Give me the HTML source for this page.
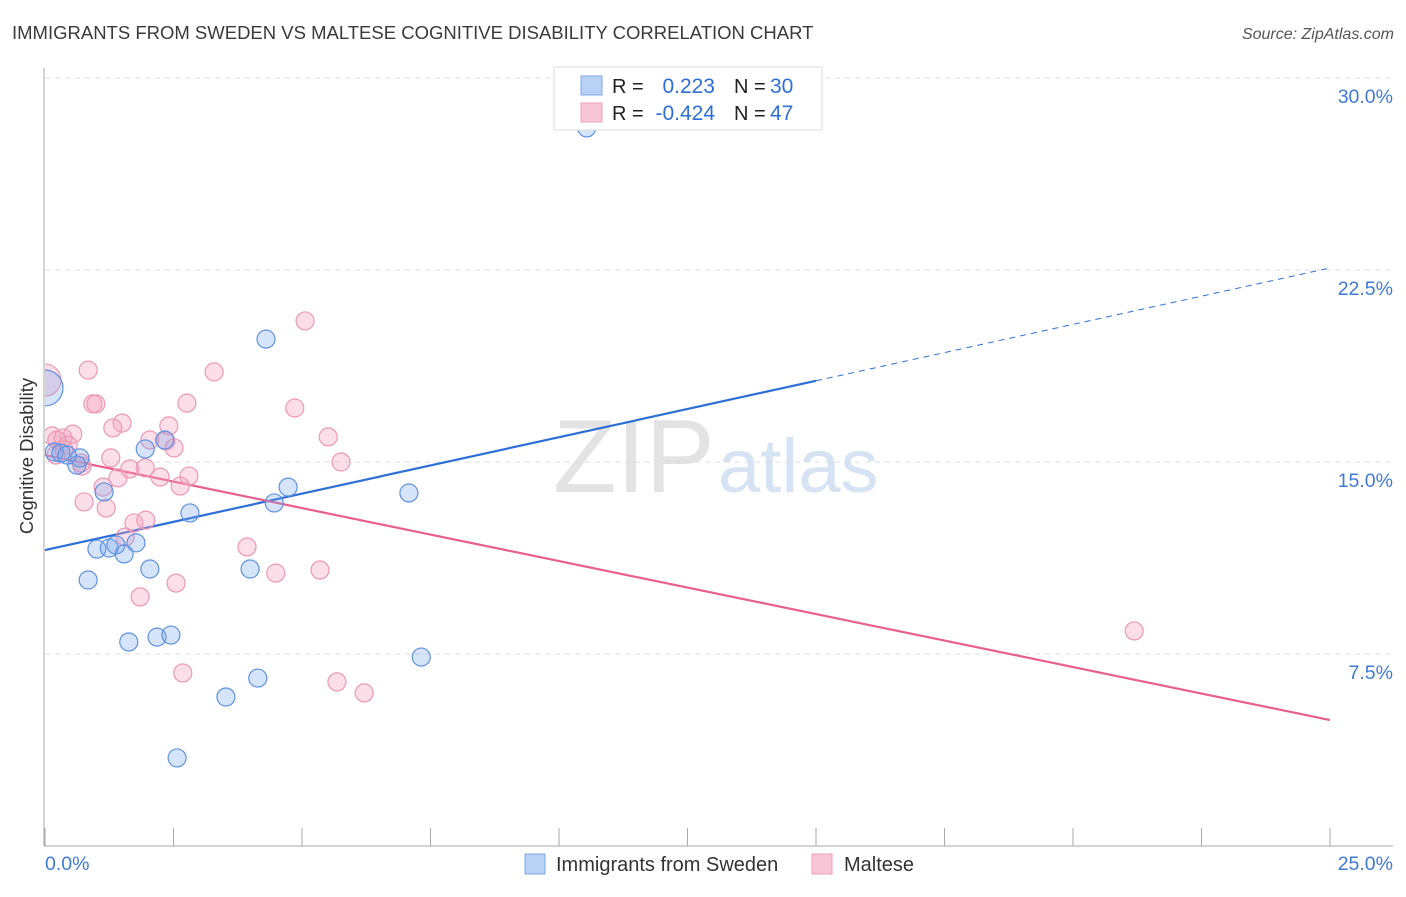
<!DOCTYPE html>
<html><head><meta charset="utf-8"><style>
body{margin:0;background:#fff;font-family:"Liberation Sans",sans-serif;}
svg text{font-family:"Liberation Sans",sans-serif;}
</style></head><body>
<svg id="chart" width="1406" height="892" viewBox="0 0 1406 892" xmlns="http://www.w3.org/2000/svg">
<defs><clipPath id="plotClip"><rect x="45" y="60" width="1360" height="786"/></clipPath></defs>
<text x="12" y="39" font-size="18.5" fill="#3a3a3a">IMMIGRANTS FROM SWEDEN VS MALTESE COGNITIVE DISABILITY CORRELATION CHART</text>
<text x="1394" y="39" font-size="16" fill="#555" font-style="italic" text-anchor="end">Source: ZipAtlas.com</text>
<g>
<text x="553" y="492" font-size="104" fill="#e3e3e3" font-family="Liberation Serif">ZIP</text>
<text x="718" y="492" font-size="76" fill="#d6e3f5">atlas</text>
</g>
<g id="grid"></g>
<g id="axes"></g>
<line id="blueTrend" stroke="#2d6fd6" stroke-width="2.2"/>
<line id="blueTrendDash" stroke="#2d6fd6" stroke-width="1" stroke-dasharray="6,5"/>
<line id="pinkTrend" stroke="#e8608e" stroke-width="2.2"/>
<g id="points" clip-path="url(#plotClip)"></g>
<text transform="translate(33,456) rotate(-90)" font-size="18.5" fill="#333" text-anchor="middle">Cognitive Disability</text>
<g>
<rect x="554" y="67" width="268" height="63" fill="#fff" stroke="#ddd"/>
<rect x="581" y="76" width="21" height="19" fill="#b9d1f5" stroke="#7ea6e6"/>
<rect x="581" y="103" width="21" height="19" fill="#f8c6d6" stroke="#eea2bc"/>
<text x="612" y="93" font-size="20" fill="#222">R =</text>
<text x="715" y="93" font-size="21" fill="#2d6fd6" text-anchor="end">0.223</text>
<text x="734" y="93" font-size="20" fill="#222">N =</text>
<text x="770" y="93" font-size="21" fill="#2d6fd6">30</text>
<text x="612" y="120" font-size="20" fill="#222">R =</text>
<text x="715" y="120" font-size="21" fill="#2d6fd6" text-anchor="end">-0.424</text>
<text x="734" y="120" font-size="20" fill="#222">N =</text>
<text x="770" y="120" font-size="21" fill="#2d6fd6">47</text>
</g>
<g>
<rect x="525" y="854" width="20" height="20" fill="#b9d1f5" stroke="#7ea6e6"/>
<text x="556" y="871" font-size="20" fill="#333">Immigrants from Sweden</text>
<rect x="812" y="854" width="20" height="20" fill="#f8c6d6" stroke="#eea2bc"/>
<text x="844" y="871" font-size="20" fill="#333">Maltese</text>
</g>
</svg>
<script>
const blueX=[0,10.54,4.30,0.18,0.31,0.68,0.62,1.15,1.95,2.33,4.73,4.46,7.08,2.82,1.01,1.25,1.38,1.54,1.77,0.84,2.04,3.99,1.63,2.18,2.45,7.32,4.14,3.52,2.57,0.43];
const blueY=[17.89,28.05,19.80,15.39,15.35,15.16,14.88,13.83,15.51,15.86,14.02,13.40,13.79,13.01,11.60,11.64,11.76,11.41,11.84,10.39,10.82,10.82,7.97,8.16,8.24,7.38,6.56,5.82,3.44,15.27];
const pinkX=[0,5.06,0.84,3.29,0.93,0.99,2.76,4.86,1.50,1.32,2.41,0.14,0.23,0.35,0.54,0.45,0.37,0.72,2.04,2.35,2.51,5.51,1.28,5.76,1.65,1.95,2.24,2.80,0.70,1.13,1.42,2.63,0.76,1.19,1.73,1.96,1.56,3.93,4.49,5.35,1.85,2.55,21.19,2.68,5.68,6.21,0.21];
const pinkY=[18.2,20.51,18.59,18.52,17.27,17.27,17.30,17.11,16.52,16.33,16.41,16.02,15.86,15.94,16.09,15.66,15.47,14.84,15.86,15.82,15.55,15.98,15.16,15.00,14.73,14.77,14.41,14.45,14.96,14.02,14.38,14.06,13.44,13.20,12.62,12.73,12.07,11.68,10.66,10.78,9.73,10.27,8.40,6.76,6.41,5.98,15.27];
const yTicks=[7.5,15,22.5,30];
const yTickLabels=["7.5%","15.0%","22.5%","30.0%"];
const xTicks=[0,2.5,5,7.5,10,12.5,15,17.5,20,22.5,25];
const blueTrend=[11.56,22.58];
const blueSolidEnd=15;
const pinkTrend=[15.27,4.92];
const NS="http://www.w3.org/2000/svg";
const sx=v=>45+v*(1285/25);
const sy=v=>846-v*25.6;
function mk(tag,attrs,parent){const e=document.createElementNS(NS,tag);for(const k in attrs)e.setAttribute(k,attrs[k]);parent.appendChild(e);return e;}
const grid=document.getElementById('grid'),axes=document.getElementById('axes'),pts=document.getElementById('points');
yTicks.forEach((t,i)=>{
 const l=mk('line',{x1:45,x2:1393,y1:sy(t),y2:sy(t),stroke:'#ddd','stroke-dasharray':'5,5'},grid);
 
 
 const tx=mk('text',{x:1393,y:sy(t)+25,'font-size':19.5,fill:'#3f7ad6','text-anchor':'end'},axes);
 tx.textContent=yTickLabels[i];
 
 
});
const ya=mk('line',{x1:44,x2:44,y1:68,y2:846,stroke:'#aaa'},axes);


const xa=mk('line',{x1:44,x2:1393,y1:846,y2:846,stroke:'#aaa'},axes);


xTicks.forEach(t=>{
 const l=mk('line',{x1:sx(t),x2:sx(t),y1:828,y2:846,stroke:'#aaa'},axes);
 
 
});
const x0=mk('text',{x:45,y:870,'font-size':19.5,fill:'#3f7ad6'},axes);x0.textContent=xTicks[0].toFixed(1)+'%';


const x1=mk('text',{x:1393,y:870,'font-size':19.5,fill:'#3f7ad6','text-anchor':'end'},axes);x1.textContent=xTicks[xTicks.length-1].toFixed(1)+'%';


const bAt=x=>blueTrend[0]+(blueTrend[1]-blueTrend[0])*x/25;
const bt=document.getElementById('blueTrend');
bt.setAttribute('x1',sx(0));bt.setAttribute('y1',sy(bAt(0)));bt.setAttribute('x2',sx(blueSolidEnd));bt.setAttribute('y2',sy(bAt(blueSolidEnd)));
const bd=document.getElementById('blueTrendDash');
bd.setAttribute('x1',sx(blueSolidEnd));bd.setAttribute('y1',sy(bAt(blueSolidEnd)));bd.setAttribute('x2',sx(25));bd.setAttribute('y2',sy(bAt(25)));
const pt=document.getElementById('pinkTrend');
pt.setAttribute('x1',sx(0));pt.setAttribute('y1',sy(pinkTrend[0]));pt.setAttribute('x2',sx(25));pt.setAttribute('y2',sy(pinkTrend[1]));
pinkX.forEach((x,i)=>{
 const c=mk('circle',{cx:sx(x),cy:sy(pinkY[i]),r:i===0?16:9,fill:'rgba(243,160,190,0.35)',stroke:'#eb98b5','stroke-width':1.2},pts);
 
 
});
blueX.forEach((x,i)=>{
 const c=mk('circle',{cx:sx(x),cy:sy(blueY[i]),r:i===0?18:9,fill:'rgba(120,165,235,0.3)',stroke:'#5d92e0','stroke-width':1.2},pts);
 
 
});
</script>
</body></html>
